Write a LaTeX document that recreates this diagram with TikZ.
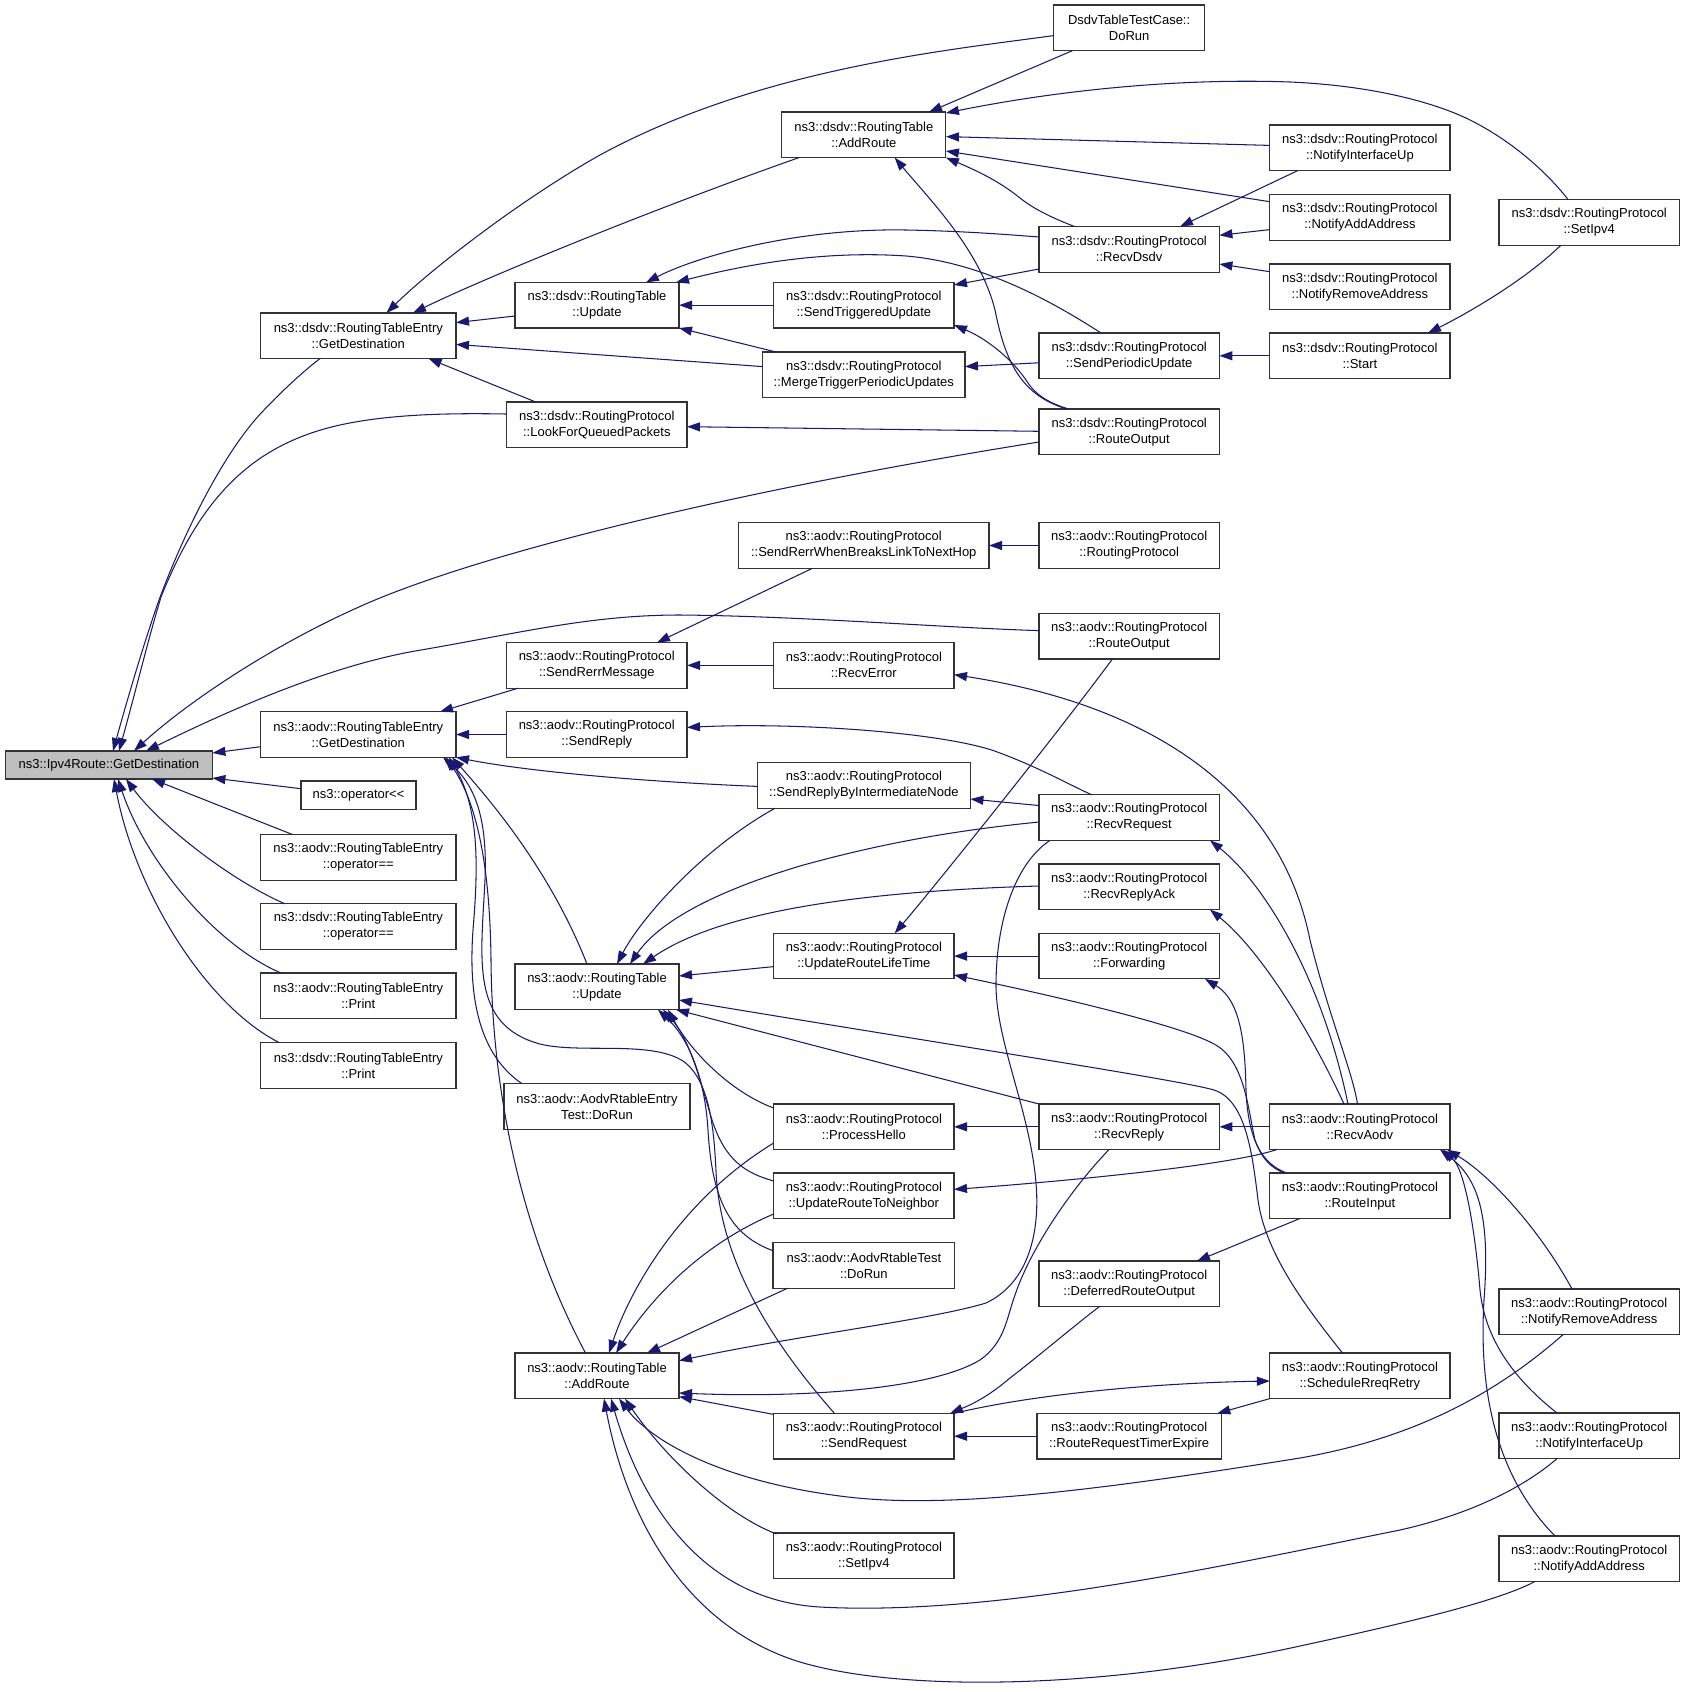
\documentclass[tikz,border=0pt]{standalone}
\usepackage{fontspec}
\setmainfont{Liberation Sans}
\usetikzlibrary{arrows.meta,calc}
\definecolor{edgec}{HTML}{191970}
\definecolor{boxc}{HTML}{333333}
\definecolor{rootc}{HTML}{BFBFBF}
\begin{document}
\begin{tikzpicture}[x=1pt,y=-1pt,
  bx/.style={draw=boxc, line width=1.1pt, fill=white, inner sep=0pt, outer sep=0pt, align=center, minimum height=45.6pt, font=\fontsize{13}{16}\selectfont},
  e/.style={draw=edgec, line width=1.05pt, {Triangle[length=13pt,width=9pt]}-}]
\useasboundingbox (0,0) rectangle (1685,1692);
% column 0
\node[bx,minimum width=207pt,minimum height=28pt,fill=rootc] (ipv4) at (108.9,765) {ns3::Ipv4Route::GetDestination};
% column 1
\node[bx,minimum width=195.4pt] (dRTE) at (358.3,335.8) {ns3::dsdv::RoutingTableEntry\\::GetDestination};
\node[bx,minimum width=195.4pt] (aRTE) at (358.3,734.5) {ns3::aodv::RoutingTableEntry\\::GetDestination};
\node[bx,minimum width=115pt,minimum height=28.7pt] (opLL) at (358.5,795.35) {ns3::operator<{}<};
\node[bx,minimum width=195.4pt] (aOpEq) at (358.3,857.4) {ns3::aodv::RoutingTableEntry\\::operator==};
\node[bx,minimum width=195.4pt] (dOpEq) at (358.3,926.6) {ns3::dsdv::RoutingTableEntry\\::operator==};
\node[bx,minimum width=195.4pt] (aPrint) at (358.3,995.8) {ns3::aodv::RoutingTableEntry\\::Print};
\node[bx,minimum width=195.4pt] (dPrint) at (358.3,1065.5) {ns3::dsdv::RoutingTableEntry\\::Print};
% column 2
\node[bx,minimum width=164pt] (dUpd) at (597,305.2) {ns3::dsdv::RoutingTable\\::Update};
\node[bx,minimum width=180.4pt] (LFQP) at (596.8,424.8) {ns3::dsdv::RoutingProtocol\\::LookForQueuedPackets};
\node[bx,minimum width=180.4pt] (SRM) at (596.8,665.3) {ns3::aodv::RoutingProtocol\\::SendRerrMessage};
\node[bx,minimum width=180.4pt] (SRep) at (596.8,734.5) {ns3::aodv::RoutingProtocol\\::SendReply};
\node[bx,minimum width=164pt] (aUpd) at (597,986.8) {ns3::aodv::RoutingTable\\::Update};
\node[bx,minimum width=186pt] (AREntry) at (597,1106.5) {ns3::aodv::AodvRtableEntry\\Test::DoRun};
\node[bx,minimum width=164pt] (aAdd) at (597,1375.8) {ns3::aodv::RoutingTable\\::AddRoute};
% column 3
\node[bx,minimum width=164.1pt] (dAdd) at (863.85,134.8) {ns3::dsdv::RoutingTable\\::AddRoute};
\node[bx,minimum width=180.3pt] (STU) at (863.85,305.2) {ns3::dsdv::RoutingProtocol\\::SendTriggeredUpdate};
\node[bx,minimum width=202.4pt] (Merge) at (863.8,374.8) {ns3::dsdv::RoutingProtocol\\::MergeTriggerPeriodicUpdates};
\node[bx,minimum width=250.5pt] (SRWB) at (863.75,545.5) {ns3::aodv::RoutingProtocol\\::SendRerrWhenBreaksLinkToNextHop};
\node[bx,minimum width=180.3pt] (RErr) at (863.85,665.3) {ns3::aodv::RoutingProtocol\\::RecvError};
\node[bx,minimum width=213.1pt] (SRBIN) at (863.85,785.4) {ns3::aodv::RoutingProtocol\\::SendReplyByIntermediateNode};
\node[bx,minimum width=180.3pt] (URLT) at (863.85,956.1) {ns3::aodv::RoutingProtocol\\::UpdateRouteLifeTime};
\node[bx,minimum width=180.3pt] (PH) at (863.85,1126.8) {ns3::aodv::RoutingProtocol\\::ProcessHello};
\node[bx,minimum width=180.3pt] (URTN) at (863.85,1195.8) {ns3::aodv::RoutingProtocol\\::UpdateRouteToNeighbor};
\node[bx,minimum width=181.7pt] (ARTest) at (863.85,1265.4) {ns3::aodv::AodvRtableTest\\::DoRun};
\node[bx,minimum width=180.3pt] (SReq) at (863.85,1436.2) {ns3::aodv::RoutingProtocol\\::SendRequest};
\node[bx,minimum width=180.3pt] (aSet) at (863.85,1555.8) {ns3::aodv::RoutingProtocol\\::SetIpv4};
% column 4
\node[bx,minimum width=151.3pt] (DTTC) at (1129.15,27.8) {DsdvTableTestCase::\\DoRun};
\node[bx,minimum width=180.4pt] (RDsdv) at (1129.2,249.3) {ns3::dsdv::RoutingProtocol\\::RecvDsdv};
\node[bx,minimum width=180.4pt] (SPU) at (1129.2,355.8) {ns3::dsdv::RoutingProtocol\\::SendPeriodicUpdate};
\node[bx,minimum width=180.4pt] (dRO) at (1129.2,431.8) {ns3::dsdv::RoutingProtocol\\::RouteOutput};
\node[bx,minimum width=180.4pt] (aRP) at (1129.2,545.5) {ns3::aodv::RoutingProtocol\\::RoutingProtocol};
\node[bx,minimum width=180.4pt] (aRO) at (1129.2,636.2) {ns3::aodv::RoutingProtocol\\::RouteOutput};
\node[bx,minimum width=180.4pt] (RReq) at (1129.2,817.6) {ns3::aodv::RoutingProtocol\\::RecvRequest};
\node[bx,minimum width=180.4pt] (RRA) at (1129.2,886.8) {ns3::aodv::RoutingProtocol\\::RecvReplyAck};
\node[bx,minimum width=180.4pt] (Fwd) at (1129.2,956.1) {ns3::aodv::RoutingProtocol\\::Forwarding};
\node[bx,minimum width=180.4pt] (RRep) at (1129.2,1126.8) {ns3::aodv::RoutingProtocol\\::RecvReply};
\node[bx,minimum width=180.4pt] (DRO) at (1129.2,1283.8) {ns3::aodv::RoutingProtocol\\::DeferredRouteOutput};
\node[bx,minimum width=184.3pt] (RRTE) at (1129.15,1436.2) {ns3::aodv::RoutingProtocol\\::RouteRequestTimerExpire};
% column 5
\node[bx,minimum width=180.2pt] (dNIU) at (1359.9,147.8) {ns3::dsdv::RoutingProtocol\\::NotifyInterfaceUp};
\node[bx,minimum width=180.2pt] (dNAA) at (1359.9,217.6) {ns3::dsdv::RoutingProtocol\\::NotifyAddAddress};
\node[bx,minimum width=180.2pt] (dNRA) at (1359.9,286.8) {ns3::dsdv::RoutingProtocol\\::NotifyRemoveAddress};
\node[bx,minimum width=180.2pt] (Start) at (1359.9,355.8) {ns3::dsdv::RoutingProtocol\\::Start};
\node[bx,minimum width=180.2pt] (RAodv) at (1359.9,1126.8) {ns3::aodv::RoutingProtocol\\::RecvAodv};
\node[bx,minimum width=180.2pt] (RIn) at (1359.9,1195.8) {ns3::aodv::RoutingProtocol\\::RouteInput};
\node[bx,minimum width=180.2pt] (SRR) at (1359.9,1375.8) {ns3::aodv::RoutingProtocol\\::ScheduleRreqRetry};
% column 6
\node[bx,minimum width=180.4pt] (dSet) at (1589.2,222.5) {ns3::dsdv::RoutingProtocol\\::SetIpv4};
\node[bx,minimum width=180.4pt] (aNRA) at (1589.2,1311.8) {ns3::aodv::RoutingProtocol\\::NotifyRemoveAddress};
\node[bx,minimum width=180.4pt] (aNIU) at (1589.2,1435.8) {ns3::aodv::RoutingProtocol\\::NotifyInterfaceUp};
\node[bx,minimum width=180.4pt] (aNAA) at (1589.2,1558.8) {ns3::aodv::RoutingProtocol\\::NotifyAddAddress};

% ---- edges into Ipv4Route
\draw[e] ($(ipv4.north west)+(107.6,0)$) .. controls (130,690) and (145,640) .. (159,600) .. controls (185,530) and (225,450) .. (264,410) .. controls (285,388) and (305,370) .. ($(dRTE.south west)+(59.4,0)$);
\draw[e] ($(ipv4.north west)+(113.6,0)$) .. controls (136,690) and (148,640) .. (161,597) .. controls (200,500) and (250,445) .. (340,425) .. controls (390,414) and (450,413) .. ($(LFQP.north west)+(0,12)$);
\draw[e] ($(ipv4.north west)+(128.6,0)$) .. controls (190,700) and (280,640) .. (375,600) .. controls (520,540) and (800,480) .. ($(dRO.north west)+(0,33)$);
\draw[e] ($(ipv4.north west)+(140.6,0)$) .. controls (230,710) and (330,665) .. (421,650) .. controls (520,633) and (590,615) .. (680,615) .. controls (800,616) and (950,628) .. ($(aRO.north west)+(0,17.2)$);
\draw[e] ($(ipv4.north east)+(0,2)$) -- ($(aRTE.north west)+(0,35)$);
\draw[e] ($(ipv4.south east)+(0,-1)$) -- ($(opLL.north west)+(0,7.7)$);
\draw[e] ($(ipv4.south west)+(146.6,0)$) -- ($(aOpEq.north west)+(32.1,0)$);
\draw[e] ($(ipv4.south west)+(120.6,0)$) .. controls (160,825) and (230,880) .. ($(dOpEq.north west)+(24.4,0)$);
\draw[e] ($(ipv4.south west)+(112.6,0)$) .. controls (145,860) and (215,945) .. ($(aPrint.north west)+(20.4,0)$);
\draw[e] ($(ipv4.south west)+(108.6,0)$) .. controls (135,890) and (205,1005) .. ($(dPrint.north west)+(18.8,0)$);
% ---- dsdv part
\draw[e] ($(dRTE.north east)+(0,9.6)$) -- ($(dUpd.north west)+(0,33.6)$);
\draw[e] ($(dRTE.north east)+(0,31.4)$) -- ($(Merge.north west)+(0,14.6)$);
\draw[e] ($(dRTE.south west)+(168,0)$) -- ($(LFQP.north west)+(29.1,0)$);
\draw[e] ($(dRTE.north west)+(125.9,0)$) .. controls (430,270) and (520,200) .. (600,155) .. controls (760,68) and (950,50) .. ($(DTTC.north west)+(0,30.6)$);
\draw[e] ($(dRTE.north west)+(152.4,0)$) .. controls (480,280) and (650,210) .. ($(dAdd.south west)+(17.2,0)$);
\draw[e] (dUpd.east) -- (STU.west);
\draw[e] (dUpd.south east) -- ($(Merge.north west)+(13.4,0)$);
\draw[e] ($(dUpd.north west)+(131,0)$) .. controls (700,255) and (800,228) .. (906,230) .. controls (960,231) and (1000,234) .. ($(RDsdv.north west)+(0,10.5)$);
\draw[e] ($(dUpd.north west)+(161,0)$) .. controls (740,266) and (820,250) .. (906,256) .. controls (980,262) and (1050,300) .. ($(SPU.north west)+(62,0)$);
\draw[e] ($(dAdd.north west)+(147.2,0)$) -- ($(DTTC.south west)+(19.1,0)$);
\draw[e] ($(dAdd.north east)+(0,1)$) .. controls (1060,90) and (1180,78) .. (1290,82) .. controls (1380,86) and (1440,105) .. (1470,120) .. controls (1510,140) and (1545,170) .. ($(dSet.north west)+(69.2,0)$);
\draw[e] ($(dAdd.north east)+(0,24.6)$) -- ($(dNIU.north west)+(0,20.4)$);
\draw[e] ($(dAdd.north east)+(0,39)$) -- ($(dNAA.north west)+(0,6.9)$);
\draw[e] (dAdd.south east) .. controls (980,172) and (1000,182) .. (1020,198) .. controls (1035,210) and (1055,219) .. ($(RDsdv.north west)+(35.5,0)$);
\draw[e] ($(dAdd.south west)+(112.9,0)$) .. controls (930,200) and (980,250) .. (995,310) .. controls (1005,360) and (1020,395) .. ($(dRO.north west)+(27.8,0)$);
\draw[e] ($(RDsdv.north west)+(141,0)$) -- ($(dNIU.south west)+(27.9,0)$);
\draw[e] ($(RDsdv.north east)+(0,8.8)$) -- ($(dNAA.north west)+(0,34.8)$);
\draw[e] ($(RDsdv.north east)+(0,37.5)$) -- ($(dNRA.north west)+(0,7.7)$);
\draw[e] ($(STU.north east)+(0,2.6)$) -- ($(RDsdv.north west)+(0,42.5)$);
\draw[e] ($(STU.north east)+(0,42.6)$) .. controls (985,338) and (1012,358) .. (1028,383) .. controls (1038,398) and (1055,405) .. ($(dRO.north west)+(29.8,0)$);
\draw[e] ($(Merge.north east)+(0,14.6)$) -- ($(SPU.north west)+(0,29.8)$);
\draw[e] (SPU.east) -- (Start.west);
\draw[e] ($(Start.north west)+(158.2,0)$) .. controls (1470,312) and (1525,280) .. ($(dSet.south west)+(61.8,0)$);
\draw[e] ($(LFQP.north east)+(0,24.7)$) -- ($(dRO.north west)+(0,22.3)$);
% ---- aodv part
\draw[e] ($(aRTE.north west)+(179.4,0)$) -- ($(SRM.south west)+(11.9,0)$);
\draw[e] (aRTE.east) -- (SRep.west);
\draw[e] (aRTE.south east) .. controls (530,772) and (650,782) .. ($(SRBIN.north west)+(0,23.8)$);
\draw[e] ($(aRTE.south west)+(191.4,0)$) .. controls (490,800) and (550,870) .. ($(aUpd.north west)+(72,0)$);
\draw[e] ($(aRTE.south west)+(188.4,0)$) .. controls (480,810) and (478,870) .. (473,930) .. controls (468,1000) and (480,1055) .. ($(AREntry.north west)+(18,0)$);
\draw[e] ($(aRTE.south west)+(185.4,0)$) .. controls (478,805) and (490,870) .. (491,960) .. controls (492,1090) and (520,1230) .. ($(aAdd.north west)+(70.5,0)$);
\draw[e] ($(aRTE.south west)+(182.4,0)$) .. controls (480,790) and (487,830) .. (485,880) .. controls (481,960) and (470,1025) .. (540,1044) .. controls (580,1054) and (650,1040) .. (683,1061) .. controls (710,1080) and (714,1130) .. (716,1171) .. controls (720,1260) and (770,1340) .. ($(SReq.north west)+(60.8,0)$);
\draw[e] ($(aUpd.north west)+(102,0)$) .. controls (640,920) and (700,850) .. ($(SRBIN.south west)+(17.7,0)$);
\draw[e] ($(aUpd.north west)+(115,0)$) .. controls (660,920) and (720,890) .. (800,866) .. controls (900,838) and (980,828) .. ($(RReq.north west)+(0,27.2)$);
\draw[e] ($(aUpd.north west)+(128,0)$) .. controls (700,925) and (800,893) .. ($(RRA.north west)+(0,22)$);
\draw[e] ($(aUpd.north east)+(0,12)$) -- ($(URLT.north west)+(0,33.3)$);
\draw[e] ($(aUpd.north east)+(0,36)$) .. controls (950,1045) and (1180,1080) .. (1214,1090) .. controls (1245,1100) and (1252,1150) .. (1258,1200) .. controls (1265,1250) and (1300,1300) .. ($(SRR.north west)+(72.7,0)$);
\draw[e] ($(aUpd.south east)+(-3,0)$) -- (RRep.north west);
\draw[e] ($(aUpd.south west)+(153,0)$) .. controls (690,1050) and (730,1092) .. ($(PH.north west)+(0,4)$);
\draw[e] ($(aUpd.south west)+(148,0)$) .. controls (690,1040) and (700,1080) .. (712,1120) .. controls (725,1160) and (745,1173) .. ($(URTN.north west)+(0,8)$);
\draw[e] ($(aUpd.south west)+(143,0)$) .. controls (690,1040) and (705,1080) .. (708,1130) .. controls (712,1200) and (730,1235) .. ($(ARTest.north west)+(0,8.1)$);
\draw[e] ($(URLT.north west)+(121,0)$) .. controls (940,880) and (1060,730) .. ($(aRO.south west)+(73.4,0)$);
\draw[e] (URLT.east) -- (Fwd.west);
\draw[e] ($(URLT.north east)+(0,41.7)$) .. controls (1050,995) and (1180,1025) .. (1214,1044) .. controls (1245,1060) and (1248,1110) .. (1255,1140) .. controls (1262,1160) and (1272,1168) .. ($(RIn.north west)+(14.2,0)$);
\draw[e] ($(SRM.north east)+(-30,0)$) -- ($(SRWB.south west)+(73.9,0)$);
\draw[e] (SRM.east) -- (RErr.west);
\draw[e] (SRWB.east) -- (aRP.west);
\draw[e] ($(RErr.north east)+(0,32.1)$) .. controls (1150,705) and (1280,790) .. (1310,940) .. controls (1330,1020) and (1352,1070) .. ($(RAodv.north west)+(87.7,0)$);
\draw[e] ($(SRep.north east)+(0,15.7)$) .. controls (800,722) and (950,733) .. (1000,753) .. controls (1040,768) and (1070,785) .. ($(RReq.north west)+(52.7,0)$);
\draw[e] ($(SRBIN.north east)+(0,36.4)$) -- ($(RReq.north west)+(0,10.7)$);
\draw[e] ($(RReq.south east)+(-9.4,0)$) .. controls (1260,880) and (1320,970) .. ($(RAodv.north west)+(78.2,0)$);
\draw[e] ($(RRA.south east)+(-9.4,0)$) .. controls (1260,950) and (1310,1030) .. ($(RAodv.north west)+(74.2,0)$);
\draw[e] ($(Fwd.south east)+(-14.4,0)$) .. controls (1240,1000) and (1245,1040) .. (1246,1090) .. controls (1248,1140) and (1262,1164) .. ($(RIn.north west)+(17,0)$);
\draw[e] (RRep.east) -- (RAodv.west);
\draw[e] (PH.east) -- (RRep.west);
\draw[e] ($(URTN.north east)+(0,16.4)$) .. controls (1080,1180) and (1230,1165) .. ($(RAodv.south west)+(7,0)$);
\draw[e] ($(DRO.north east)+(-22.4,0)$) -- ($(RIn.south west)+(29.8,0)$);
\draw[e] ($(SReq.north east)+(-4,0)$) .. controls (975,1403) and (990,1395) .. (1010,1378) .. controls (1040,1355) and (1075,1325) .. ($(DRO.south west)+(60.4,0)$);
\draw[e] (SReq.east) -- (RRTE.west);
\draw[e] ($(SRR.north west)+(0,28)$) .. controls (1150,1383) and (1030,1395) .. (SReq.north east);
\draw[e] ($(RRTE.north east)+(-4,0)$) -- (SRR.south west);
\draw[e] ($(aAdd.north west)+(94,0)$) .. controls (630,1290) and (680,1200) .. ($(PH.north west)+(0,39)$);
\draw[e] ($(aAdd.north west)+(101,0)$) .. controls (650,1300) and (700,1245) .. ($(URTN.north west)+(0,41)$);
\draw[e] ($(aAdd.north west)+(132,0)$) -- ($(ARTest.south west)+(14.6,0)$);
\draw[e] ($(aAdd.north east)+(0,7.7)$) .. controls (800,1335) and (930,1320) .. (986,1303) .. controls (1030,1282) and (1040,1230) .. (1036,1183) .. controls (1030,1110) and (995,1040) .. (996,982) .. controls (997,910) and (1020,860) .. ($(RReq.south west)+(11,0)$);
\draw[e] ($(aAdd.north east)+(0,40)$) .. controls (800,1398) and (930,1390) .. (980,1360) .. controls (1005,1342) and (1006,1320) .. (1015,1295) .. controls (1030,1250) and (1070,1190) .. ($(RRep.south west)+(70,0)$);
\draw[e] ($(aAdd.south east)+(0,-2)$) -- ($(SReq.north west)+(0,1)$);
\draw[e] ($(aAdd.south west)+(110,0)$) .. controls (660,1450) and (720,1512) .. ($(aSet.north west)+(2.7,1)$);
\draw[e] ($(aAdd.south west)+(104,0)$) .. controls (650,1440) and (720,1482) .. (848,1497) .. controls (950,1509) and (1100,1490) .. (1300,1458) .. controls (1420,1437) and (1500,1390) .. ($(aNRA.south west)+(64,0)$);
\draw[e] ($(aAdd.south west)+(96,0)$) .. controls (640,1500) and (700,1600) .. (820,1607) .. controls (1000,1617) and (1250,1560) .. (1400,1530) .. controls (1480,1512) and (1530,1482) .. ($(aNIU.south west)+(58,0)$);
\draw[e] ($(aAdd.south west)+(89,0)$) .. controls (625,1510) and (680,1625) .. (800,1662) .. controls (900,1692) and (1100,1690) .. (1300,1646) .. controls (1420,1620) and (1500,1600) .. ($(aNAA.south west)+(35.7,0)$);
\draw[e] ($(RAodv.south east)+(-3,0)$) .. controls (1490,1175) and (1540,1230) .. ($(aNRA.north west)+(73,0)$);
\draw[e] ($(RAodv.south east)+(-7,0)$) .. controls (1465,1170) and (1475,1230) .. (1480,1290) .. controls (1485,1340) and (1515,1380) .. ($(aNIU.north west)+(58,0)$);
\draw[e] ($(RAodv.south east)+(-10,0)$) .. controls (1480,1180) and (1490,1220) .. (1484,1300) .. controls (1478,1400) and (1500,1480) .. ($(aNAA.north west)+(56,0)$);
\end{tikzpicture}
\end{document}
